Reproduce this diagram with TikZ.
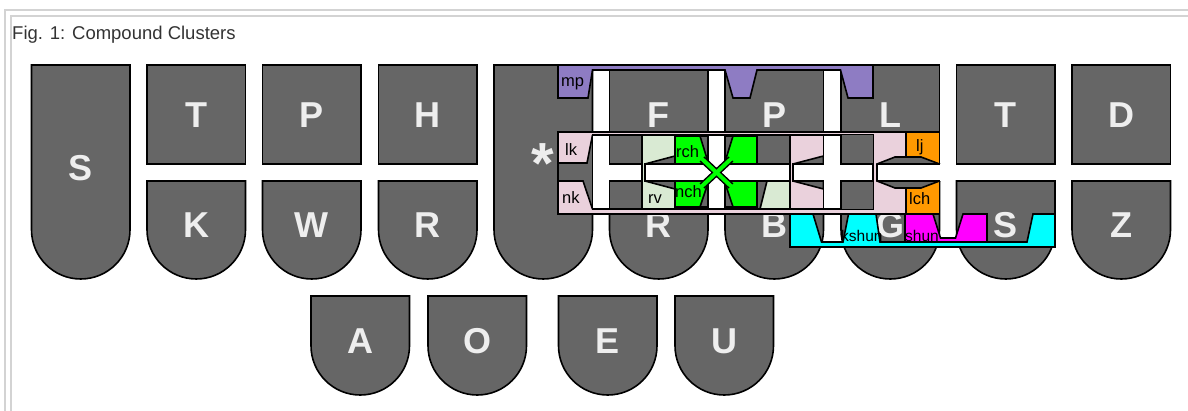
\documentclass[tikz,border=0pt]{standalone}
\usepackage{fontspec}
\setmainfont{Liberation Sans}
\definecolor{keyg}{HTML}{666666}
\definecolor{keyt}{HTML}{EEEEEE}
\definecolor{frameg}{HTML}{D3D3D3}
\definecolor{titleg}{HTML}{333333}
\definecolor{cPurple}{HTML}{8E7CC3}
\definecolor{cPink}{HTML}{EAD1DC}
\definecolor{cLGreen}{HTML}{D9EAD3}
\definecolor{cGreen}{HTML}{00FF00}
\definecolor{cOrange}{HTML}{FF9900}
\definecolor{cCyan}{HTML}{00FFFF}
\definecolor{cMagenta}{HTML}{FF00FF}
\tikzset{
  keybox/.style={draw=black, line width=1.6pt, fill=keyg},
  keylet/.style={text=keyt, font=\fontsize{36}{36}\selectfont\bfseries, anchor=base, inner sep=0pt},
  ov/.style={draw=black, line width=1.6pt, line join=miter},
  lab/.style={font=\fontsize{16.5}{16.5}\selectfont, anchor=base west, inner sep=0pt, text=black},
  frameline/.style={draw=frameg, line width=2pt},
}
\newcommand{\KeySq}[4]{\draw[keybox] (#2,#3) rectangle ++(98.5,99); \node[keylet] (#1) at (#2+49.25,#3+63) {#4};}
\newcommand{\KeyRd}[6]{\draw[keybox] (#2,#3) -- (#2+98.5,#3) -- (#2+98.5,#4-49.25) arc[start angle=0,end angle=-180,radius=49.25pt] -- cycle; \node[keylet] (#1) at (#2+49.25,#5) {#6};}
\begin{document}
\begin{tikzpicture}[x=1pt,y=-1pt]
\useasboundingbox (0,0) rectangle (1188,411);
% frame
\draw[frameline] (5,411) -- (5,10) -- (1188,10);
\draw[frameline] (11,411) -- (11,16) -- (1188,16);
\node[anchor=base west, inner sep=0pt, text=titleg, font=\fontsize{18.5}{18.5}\selectfont] (title) at (12,40) {Fig. 1: Compound Clusters};
% keys
\KeyRd{kS}{31.5}{65}{279}{181}{S}
\KeySq{kT}{147}{65}{T}
\KeySq{kP}{262.5}{65}{P}
\KeySq{kH}{378.5}{65}{H}
\draw[keybox] (494,65) -- (592.5,65) -- (592.5,229.75) arc[start angle=0,end angle=-180,radius=49.25pt] -- cycle;
\node[text=keyt, font=\fontsize{58}{58}\selectfont\bfseries, anchor=base, inner sep=0pt] (kStar) at (542.5,184) {*};
\KeySq{kF}{609.5}{65}{F}
\KeySq{kRP}{725}{65}{P}
\KeySq{kL}{841}{65}{L}
\KeySq{kRT}{956.5}{65}{T}
\KeySq{kD}{1072}{65}{D}
\KeyRd{kK}{147}{181}{279}{238}{K}
\KeyRd{kW}{262.5}{181}{279}{238}{W}
\KeyRd{kR}{378.5}{181}{279}{238}{R}
\KeyRd{kRR}{609.5}{181}{279}{238}{R}
\KeyRd{kB}{725}{181}{279}{238}{B}
\KeyRd{kG}{841}{181}{279}{238}{G}
\KeyRd{kRS}{956.5}{181}{279}{238}{S}
\KeyRd{kZ}{1072}{181}{279}{238}{Z}
\KeyRd{kA}{311}{296}{395}{353}{A}
\KeyRd{kO}{428}{296}{395}{353}{O}
\KeyRd{kE}{558.5}{296}{395}{353}{E}
\KeyRd{kU}{675}{296}{395}{353}{U}
% purple mp
\draw[ov, fill=cPurple] (558,65) -- (873,65) -- (873,98) -- (848,98) -- (840.5,70) -- (757,70) -- (750,98) -- (733,98) -- (725,70) -- (592.5,70) -- (588,98) -- (558,98) -- cycle;
% pink outer
\draw[ov, fill=cPink] (558,132) rectangle (906,214);
\draw[ov, fill=keyg] (592.5,135) -- (587,163) -- (558,163) -- (558,181) -- (583,181) -- (592.5,209);
% inner area
\draw[ov, fill=keyg] (592.5,135) rectangle (873,209);
\draw[ov, fill=cLGreen] (642,135) rectangle (790,209);
\draw[ov, fill=keyg] (757,135) -- (790,135) -- (790,181) -- (767,181) -- (760,209) -- (757,209) -- cycle;
\draw[ov, fill=cPink] (790,135) rectangle (873,209);
\fill[keyg] (841,135) rectangle (873,164);
\fill[keyg] (841,181) rectangle (873,209);
\draw[ov, fill=cGreen] (675,136) rectangle (757,207);
\draw[ov, fill=keyg] (700,136) -- (708,136) -- (708,162) -- cycle;
\draw[ov, fill=keyg] (733,136) -- (725,136) -- (725,162) -- cycle;
\draw[ov, fill=keyg] (700,207) -- (708,207) -- (708,183) -- cycle;
\draw[ov, fill=keyg] (733,207) -- (725,207) -- (725,183) -- cycle;
\draw[ov, fill=keyg] (645,164) -- (675,156) -- (675,189) -- (645,181) -- cycle;
\draw[ov, fill=keyg] (793,164) -- (823.5,156) -- (823.5,189) -- (793,181) -- cycle;
% white gap shapes
\draw[ov, fill=white] (592.5,135) -- (609.5,135) -- (609.5,164) -- (642,164) -- (642,181) -- (609.5,181) -- (609.5,209) -- (592.5,209) -- cycle;
\draw[ov, fill=white] (645,164) -- (708,164) -- (708,135) -- (725,135) -- (725,164) -- (790,164) -- (790,181) -- (725,181) -- (725,209) -- (708,209) -- (708,181) -- (645,181) -- cycle;
\draw[ov, fill=white] (793,164) -- (823.5,164) -- (823.5,135) -- (841,135) -- (841,164) -- (873,164) -- (873,181) -- (841,181) -- (841,209) -- (823.5,209) -- (823.5,181) -- (793,181) -- cycle;
% green X
\draw[black, line width=7pt] (702,159) -- (731,186) (731,159) -- (702,186);
\draw[cGreen, line width=4pt] (701,158) -- (732,187) (732,158) -- (701,187);
% orange lj/lch
\draw[ov, fill=cOrange] (906,132) rectangle (939.5,214);
\draw[ov, fill=keyg] (877,164) -- (895,157) -- (921,157) -- (939.5,164) -- (939.5,181) -- (921,188) -- (895,188) -- (877,181) -- cycle;
\fill[white] (877.8,164) rectangle (941,181);
\draw[ov] (877,164) -- (939.5,164) (877,181) -- (939.5,181);
% cyan kshun
\draw[ov, fill=cCyan] (790,214) -- (813,214) -- (821.5,242) -- (843,242) -- (848.5,214) -- (876,214) -- (880,242) -- (1027,242) -- (1033,214) -- (1055,214) -- (1055,247) -- (790,247) -- cycle;
% magenta shun
\draw[ov, fill=cMagenta] (905,214) -- (933,214) -- (940.5,238) -- (955.5,238) -- (963,214) -- (987,214) -- (987,242) -- (905,242) -- cycle;
% labels
\node[lab] (lmp) at (561,87) {mp};
\node[lab] (llk) at (565,156) {lk};
\node[lab] (lnk) at (562,204) {nk};
\node[lab] (lrv) at (648,204) {rv};
\node[lab] (lrch) at (676,158) {rch};
\node[lab] (lnch) at (675,198) {nch};
\node[lab] (llj) at (916,152) {lj};
\node[lab] (llch) at (909,205) {lch};
\node[lab, font=\fontsize{15.5}{15.5}\selectfont] (lkshun) at (841,242) {kshun};
\node[lab, font=\fontsize{15.5}{15.5}\selectfont] (lshun) at (905,242) {shun};
\end{tikzpicture}
\end{document}
